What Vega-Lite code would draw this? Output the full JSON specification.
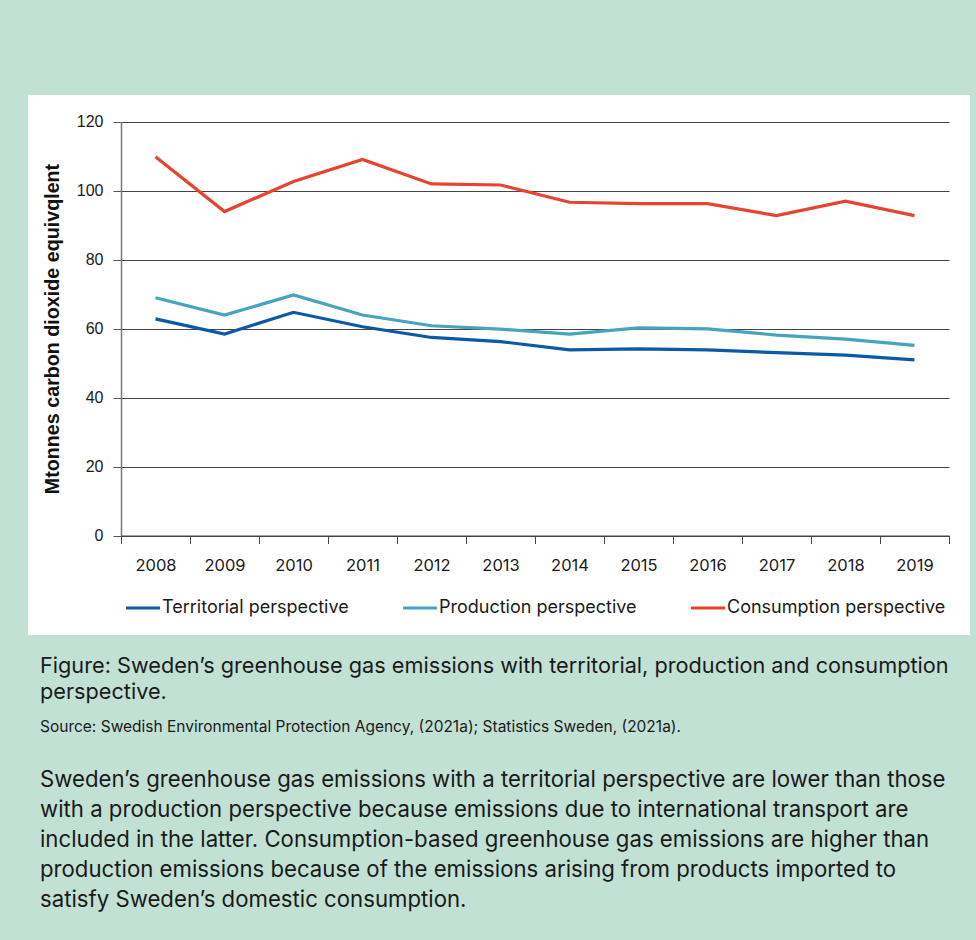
{
  "$schema": "https://vega.github.io/schema/vega-lite/v6.json",
  "background": "#c1e1d5",
  "padding": {"left": 28, "top": 95, "right": 6, "bottom": 30},
  "title": {
    "text": [
      "Sweden’s greenhouse gas emissions with a territorial perspective are lower than those",
      "with a production perspective because emissions due to international transport are",
      "included in the latter. Consumption-based greenhouse gas emissions are higher than",
      "production emissions because of the emissions arising from products imported to",
      "satisfy Sweden’s domestic consumption."
    ],
    "orient": "bottom",
    "anchor": "start",
    "dx": 12,
    "offset": 34,
    "font": "Inter",
    "fontSize": 22.2,
    "fontWeight": "normal",
    "lineHeight": 30,
    "color": "#1a1a1a"
  },
  "vconcat": [
    {
      "width": 942,
      "height": 540,
      "view": {"fill": "white", "stroke": null},
      "title": {
        "text": [
          "Figure: Sweden’s greenhouse gas emissions with territorial, production and consumption",
          "perspective."
        ],
        "subtitle": "Source: Swedish Environmental Protection Agency, (2021a); Statistics Sweden, (2021a).",
        "orient": "bottom",
        "anchor": "start",
        "frame": "group",
        "dx": 12,
        "offset": 21,
        "font": "Inter",
        "fontSize": 21.7,
        "fontWeight": "normal",
        "lineHeight": 26,
        "color": "#1a1a1a",
        "subtitleFont": "Inter",
        "subtitleFontSize": 15.5,
        "subtitleColor": "#1a1a1a",
        "subtitlePadding": 16
      },
      "data": {
        "values": [
          {"year": "2008", "series": "Territorial perspective", "value": 62.8},
          {"year": "2009", "series": "Territorial perspective", "value": 58.4},
          {"year": "2010", "series": "Territorial perspective", "value": 64.7},
          {"year": "2011", "series": "Territorial perspective", "value": 60.5},
          {"year": "2012", "series": "Territorial perspective", "value": 57.4},
          {"year": "2013", "series": "Territorial perspective", "value": 56.2},
          {"year": "2014", "series": "Territorial perspective", "value": 53.8},
          {"year": "2015", "series": "Territorial perspective", "value": 54.1},
          {"year": "2016", "series": "Territorial perspective", "value": 53.8},
          {"year": "2017", "series": "Territorial perspective", "value": 53.0},
          {"year": "2018", "series": "Territorial perspective", "value": 52.3},
          {"year": "2019", "series": "Territorial perspective", "value": 50.9},
          {"year": "2008", "series": "Production perspective", "value": 68.9},
          {"year": "2009", "series": "Production perspective", "value": 63.9},
          {"year": "2010", "series": "Production perspective", "value": 69.7},
          {"year": "2011", "series": "Production perspective", "value": 63.9},
          {"year": "2012", "series": "Production perspective", "value": 60.8},
          {"year": "2013", "series": "Production perspective", "value": 59.8},
          {"year": "2014", "series": "Production perspective", "value": 58.4},
          {"year": "2015", "series": "Production perspective", "value": 60.2},
          {"year": "2016", "series": "Production perspective", "value": 59.9},
          {"year": "2017", "series": "Production perspective", "value": 58.1},
          {"year": "2018", "series": "Production perspective", "value": 56.9},
          {"year": "2019", "series": "Production perspective", "value": 55.1},
          {"year": "2008", "series": "Consumption perspective", "value": 109.8},
          {"year": "2009", "series": "Consumption perspective", "value": 93.9},
          {"year": "2010", "series": "Consumption perspective", "value": 102.6},
          {"year": "2011", "series": "Consumption perspective", "value": 109.0},
          {"year": "2012", "series": "Consumption perspective", "value": 101.9},
          {"year": "2013", "series": "Consumption perspective", "value": 101.6},
          {"year": "2014", "series": "Consumption perspective", "value": 96.6},
          {"year": "2015", "series": "Consumption perspective", "value": 96.2},
          {"year": "2016", "series": "Consumption perspective", "value": 96.2},
          {"year": "2017", "series": "Consumption perspective", "value": 92.7},
          {"year": "2018", "series": "Consumption perspective", "value": 96.9},
          {"year": "2019", "series": "Consumption perspective", "value": 92.7}
        ]
      },
      "mark": {"type": "line", "strokeWidth": 3.2, "strokeCap": "butt", "strokeJoin": "miter"},
      "encoding": {
        "x": {
          "field": "year",
          "type": "ordinal",
          "bandPosition": 0.5,
          "scale": {"type": "band", "range": [93, 921], "paddingInner": 0, "paddingOuter": 0},
          "axis": {
            "title": null,
            "offset": -99.5,
            "labelAngle": 0,
            "tickBand": "extent",
            "tickSize": 8,
            "tickColor": "#444",
            "domainColor": "#444",
            "domainWidth": 1,
            "labelPadding": 14,
            "labelFont": "Inter",
            "labelFontSize": 16.5,
            "labelColor": "#1a1a1a",
            "grid": false
          }
        },
        "y": {
          "field": "value",
          "type": "quantitative",
          "scale": {"domain": [0, 120], "range": [440.5, 26.5], "nice": false},
          "axis": {
            "title": "Mtonnes carbon dioxide equivqlent",
            "offset": -93,
            "values": [0, 20, 40, 60, 80, 100, 120],
            "tickSize": 8,
            "tickColor": "#555",
            "domainColor": "#777",
            "domainWidth": 1.5,
            "gridColor": "#444",
            "gridWidth": 1,
            "gridOpacity": 1,
            "labelPadding": 10,
            "labelFont": "Liberation Sans",
            "labelFontSize": 16,
            "labelColor": "#1a1a1a",
            "titleFont": "Liberation Sans",
            "titleFontSize": 19.7,
            "titleFontWeight": "bold",
            "titleColor": "#111",
            "titlePadding": 14
          }
        },
        "color": {
          "field": "series",
          "type": "nominal",
          "scale": {
            "domain": ["Territorial perspective", "Production perspective", "Consumption perspective"],
            "range": ["#0a5aa6", "#46a4bf", "#e8432d"]
          },
          "legend": {
            "title": null,
            "orient": "none",
            "direction": "horizontal",
            "columns": 3,
            "legendX": 96,
            "legendY": 494,
            "symbolType": "stroke",
            "symbolSize": 1150,
            "symbolStrokeWidth": 3.2,
            "labelOffset": 0,
            "columnPadding": 47,
            "labelFont": "Inter",
            "labelFontSize": 18,
            "labelColor": "#1a1a1a",
            "labelLimit": 0
          }
        }
      }
    }
  ]
}
